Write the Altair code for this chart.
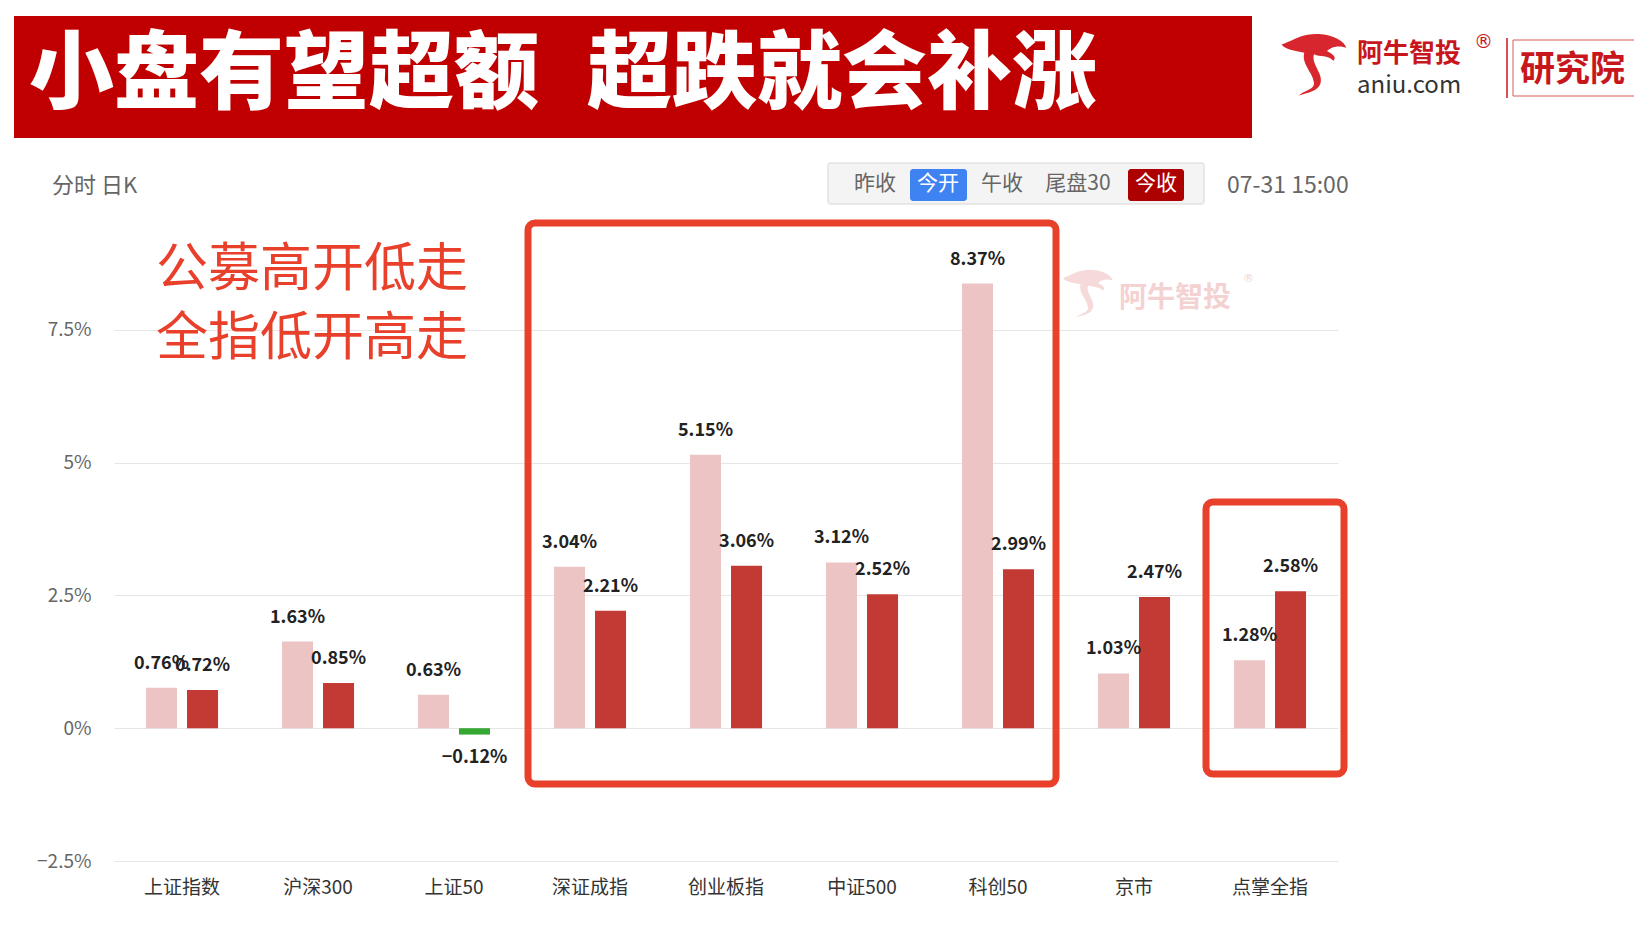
import altair as alt
import pandas as pd

# ---------------- data ----------------
categories = ["上证指数", "沪深300", "上证50", "深证成指", "创业板指", "中证500", "科创50", "京市", "点掌全指"]
open_pct = [0.76, 1.63, 0.63, 3.04, 5.15, 3.12, 8.37, 1.03, 1.28]     # 今开
close_pct = [0.72, 0.85, -0.12, 2.21, 3.06, 2.52, 2.99, 2.47, 2.58]   # 今收
series_names = ["今开", "今收"]
y_ticks = [-2.5, 0, 2.5, 5, 7.5]

title_left = "小盘有望超额"
title_right = "超跌就会补涨"
note_lines = ["公募高开低走", "全指低开高走"]
buttons = ["昨收", "今开", "午收", "尾盘30", "今收"]
time_text = "07-31 15:00"

FONT = "Noto Sans CJK SC"
PINK = "#ECC4C3"
DARK = "#C23A33"
GREEN = "#34A833"
HL = "#E8402A"

rows = []
for c, o, cl in zip(categories, open_pct, close_pct):
    rows.append({"cat": c, "series": series_names[0], "value": o})
    rows.append({"cat": c, "series": series_names[1], "value": cl})
df = pd.DataFrame(rows)
df["color"] = [PINK if s == "今开" else (GREEN if v < 0 else DARK) for s, v in zip(df["series"], df["value"])]
df["label"] = [f"{v:.2f}%".replace("-", "−") for v in df["value"]]

# plot-area origin on the page (used only for decorations)
X0, Y0 = 114, 197
W, H = 1224, 664

x_enc = alt.X("cat:N", sort=categories,
              scale=alt.Scale(paddingInner=0.47, paddingOuter=0.235),
              axis=alt.Axis(title=None, labelAngle=0, labelFontSize=19, labelColor="#333333",
                            labelFont=FONT, domain=False, ticks=False, labelPadding=17, grid=False))
xo_enc = alt.XOffset("series:N", sort=series_names,
                     scale=alt.Scale(paddingInner=0.244, paddingOuter=0))
y_enc = alt.Y("value:Q", scale=alt.Scale(domain=[-2.5, 10], nice=False, zero=False),
              axis=alt.Axis(title=None, values=y_ticks,
                            labelExpr="replace(datum.value + '%', '-', '−')",
                            labelFontSize=19, labelColor="#666666", labelFont=FONT,
                            domain=False, ticks=False, labelPadding=23,
                            grid=True, gridColor="#E6E6E6", gridWidth=1))

base = alt.Chart(df)
bars = base.mark_bar().encode(x=x_enc, xOffset=xo_enc, y=y_enc,
                              color=alt.Color("color:N", scale=None))
lab_pos = base.transform_filter("datum.value >= 0").mark_text(
    dy=-24, baseline="middle", align="center", font=FONT, fontSize=18,
    fontWeight="bold", color="#222222").encode(x=x_enc, xOffset=xo_enc, y=y_enc, text="label:N")
lab_neg = base.transform_filter("datum.value < 0").mark_text(
    dy=23, baseline="middle", align="center", font=FONT, fontSize=18,
    fontWeight="bold", color="#222222").encode(x=x_enc, xOffset=xo_enc, y=y_enc, text="label:N")

one = pd.DataFrame({"k": [0]})


def txt(text, X, Y, size, color, weight="normal", align="left", font=FONT, opacity=1.0):
    return alt.Chart(one).mark_text(text=text, font=font, fontSize=size, color=color,
                                    fontWeight=weight, align=align, baseline="middle",
                                    opacity=opacity).encode(
        x=alt.value(X - X0), y=alt.value(Y - Y0))


def box(X1, Y1, X2, Y2, fill="transparent", stroke=None, sw=0, radius=0):
    kw = dict(fill=fill, cornerRadius=radius)
    if stroke:
        kw.update(stroke=stroke, strokeWidth=sw)
    return alt.Chart(one).mark_rect(**kw).encode(
        x=alt.value(X1 - X0), x2=alt.value(X2 - X0),
        y=alt.value(Y1 - Y0), y2=alt.value(Y2 - Y0))


def line(X1, Y1, X2, Y2, color, w):
    return alt.Chart(one).mark_rule(color=color, strokeWidth=w).encode(
        x=alt.value(X1 - X0), x2=alt.value(X2 - X0),
        y=alt.value(Y1 - Y0), y2=alt.value(Y2 - Y0))


BIRD = ("M -0.2 -0.9 C 0.3 -1.0 0.9 -0.8 1.0 -0.5 C 0.7 -0.6 0.5 -0.5 0.4 -0.4 "
        "C 0.6 -0.3 0.7 -0.2 0.6 -0.1 C 0.4 -0.3 0.2 -0.2 0.0 -0.3 "
        "C -0.1 0.0 0.3 0.3 0.2 0.6 C 0.1 0.9 -0.4 0.9 -0.5 1.0 "
        "C -0.3 0.8 0.0 0.8 0.0 0.6 C 0.0 0.3 -0.4 0.0 -0.3 -0.35 "
        "C -0.6 -0.4 -0.9 -0.45 -1.0 -0.6 C -0.7 -0.7 -0.5 -0.85 -0.2 -0.9 Z")


def bird(X, Y, size, color):
    return alt.Chart(one).mark_point(shape=BIRD, filled=True, fill=color, size=size,
                                     strokeWidth=0, opacity=1).encode(
        x=alt.value(X - X0), y=alt.value(Y - Y0))


layers = []
# watermark
layers += [bird(1088, 293, 2500, "#F6DADA"),
           txt("阿牛智投", 1119, 299, 28, "#F4D2D2", weight="bold"),
           txt("®", 1243, 279, 11, "#F4D2D2", font="DejaVu Sans")]
layers += [bars, lab_pos, lab_neg]
# highlight boxes
layers += [box(528, 223, 1056, 784, stroke=HL, sw=7, radius=7),
           box(1206, 502, 1344, 774, stroke=HL, sw=7, radius=7)]
# annotation text
layers += [txt(note_lines[0], 156, 270, 52, HL),
           txt(note_lines[1], 156, 339, 52, HL)]
# banner
layers += [box(14, 16, 1252, 138, fill="#C00000"),
           txt(title_left, 29, 76, 85, "#FFFFFF", weight=900),
           txt(title_right, 587, 76, 85, "#FFFFFF", weight=900)]
# logo
layers += [bird(1314, 64, 4200, "#D7262E"),
           txt("阿牛智投", 1357, 54, 26, "#C8161D", weight="bold"),
           txt("®", 1474, 42, 19, "#C8161D", font="DejaVu Sans"),
           txt("aniu.com", 1357, 86, 24, "#333333"),
           line(1507, 38, 1507, 98, "#C8161D", 1.5),
           box(1513, 40, 1643, 96, stroke="#D95A5A", sw=1),
           txt("研究院", 1520, 70, 35, "#C8161D", weight="bold")]
# toolbar
layers += [txt("分时 日K", 52, 186, 22, "#666666"),
           box(828, 163, 1204, 204, fill="#F4F4F4", stroke="#D6D6D6", sw=1, radius=2),
           box(910, 169, 967, 201, fill="#3F82F1", radius=3),
           box(1128, 169, 1184, 201, fill="#AD0000", radius=3),
           txt(buttons[0], 875, 184, 21, "#666666", align="center"),
           txt(buttons[1], 938, 184, 21, "#FFFFFF", align="center"),
           txt(buttons[2], 1002, 184, 21, "#666666", align="center"),
           txt(buttons[3], 1078, 184, 21, "#666666", align="center"),
           txt(buttons[4], 1156, 184, 21, "#FFFFFF", align="center"),
           txt(time_text, 1227, 186, 23, "#666666")]

chart = alt.layer(*layers).properties(
    width=W, height=H,
    autosize=alt.AutoSizeParams(type="none"),
    padding={"left": X0 - 8, "top": Y0 - 8, "right": 296, "bottom": 50},
).configure_view(strokeWidth=0)

chart.save("out.html", embed_options={"renderer": "svg", "actions": False})
